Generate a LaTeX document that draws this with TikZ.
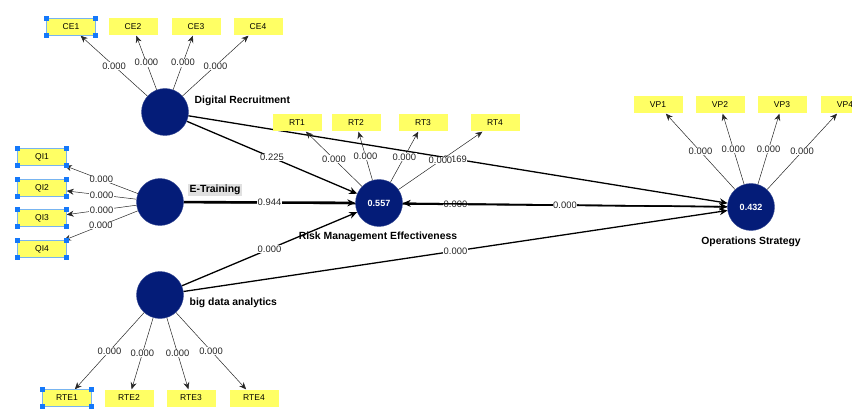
\documentclass[tikz,border=0pt]{standalone}
\usepackage{fontspec}
\setmainfont{Liberation Sans}
\usetikzlibrary{arrows.meta}
\definecolor{lvblue}{RGB}{4,28,120}
\definecolor{mvyellow}{RGB}{255,255,100}
\definecolor{selblue}{RGB}{120,180,240}
\definecolor{handle}{RGB}{20,120,250}
\pgfdeclarelayer{bg}
\pgfsetlayers{bg,main}
\tikzset{
  latent/.style={circle, fill=lvblue, draw=lvblue!80, minimum size=47pt, inner sep=0pt, text=white, font=\bfseries\fontsize{9}{10}\selectfont},
  indicator/.style={fill=mvyellow, minimum width=49pt, minimum height=17pt, inner sep=0pt, font=\fontsize{8.5}{9}\selectfont},
  lvname/.style={inner sep=1.5pt, font=\bfseries\fontsize{10.4}{12}\selectfont},
  coef/.style={fill=white, inner sep=0.5pt, text=black!85, font=\fontsize{9.4}{10}\selectfont},
  inner/.style={-{Stealth[length=8pt,width=7pt]}, line width=1.3pt},
  load/.style={-{Stealth[length=7pt,width=6pt]}, line width=0.5pt, draw=black!85},
}
\begin{document}
\begin{tikzpicture}[x=1pt,y=-1pt]
\useasboundingbox (0,0) rectangle (852,409);
% constructs
\node[latent] (dr) at (165,112) {};
\node[latent] (et) at (160,202) {};
\node[latent] (bda) at (160,295) {};
\node[latent] (rme) at (379,203) {0.557};
\node[latent] (os) at (751,207) {0.432};
\node[lvname, anchor=west] (drname) at (193,101) {Digital Recruitment};
\node[lvname, fill=black!12, anchor=west] (etname) at (188,190) {E-Training};
\node[lvname, anchor=west] (bdaname) at (188,303) {big data analytics};
\node[lvname] (rmename) at (378,237) {Risk Management Effectiveness};
\node[lvname] (osname) at (751,242) {Operations Strategy};
% indicators
\foreach \i/\x in {1/71,2/133,3/196,4/258}
  \node[indicator] (ce\i) at (\x,27) {CE\i};
\foreach \i/\y in {1/157,2/188,3/218,4/249}
  \node[indicator] (qi\i) at (42,\y) {QI\i};
\foreach \i/\x in {1/297,2/356,3/423,4/495}
  \node[indicator] (rt\i) at (\x,123) {RT\i};
\foreach \i/\x in {1/658,2/720,3/782,4/845}
  \node[indicator] (vp\i) at (\x,105) {VP\i};
\foreach \i/\x in {1/67,2/129,3/191,4/254}
  \node[indicator] (rte\i) at (\x,398) {RTE\i};
% inner model
\begin{pgfonlayer}{bg}
\draw[inner] (et) -- node[coef]{0.000} (os);
\draw[inner] (dr) -- node[coef, xshift=-3pt]{0.169} (os);
\draw[inner] (bda) -- node[coef]{0.000} (os);
\draw[inner] (os) -- node[coef]{0.000} (rme);
\draw[inner] (rme) -- node[coef]{0.000} (os);
\draw[inner] (dr) -- node[coef]{0.225} (rme);
\draw[inner, line width=2.6pt] (et) -- node[coef]{0.944} (rme);
\draw[inner] (bda) -- node[coef]{0.000} (rme);
\end{pgfonlayer}
% outer model
\foreach \i in {1,...,4} {
  \draw[load] (dr) -- node[coef]{0.000} (ce\i);
  \draw[load] (et) -- node[coef]{0.000} (qi\i);
  \draw[load] (rme) -- node[coef]{0.000} (rt\i);
  \draw[load] (os) -- node[coef]{0.000} (vp\i);
  \draw[load] (bda) -- node[coef]{0.000} (rte\i);
}
% selection marks
\foreach \n in {ce1,qi1,qi2,qi3,qi4,rte1} {
  \draw[selblue, line width=1.2pt] (\n.north west) rectangle (\n.south east);
  \foreach \a in {north west,north east,south west,south east}
    \fill[handle] (\n.\a) ++(-2.7,-2.7) rectangle ++(5.4,5.4);
}
\end{tikzpicture}
\end{document}
